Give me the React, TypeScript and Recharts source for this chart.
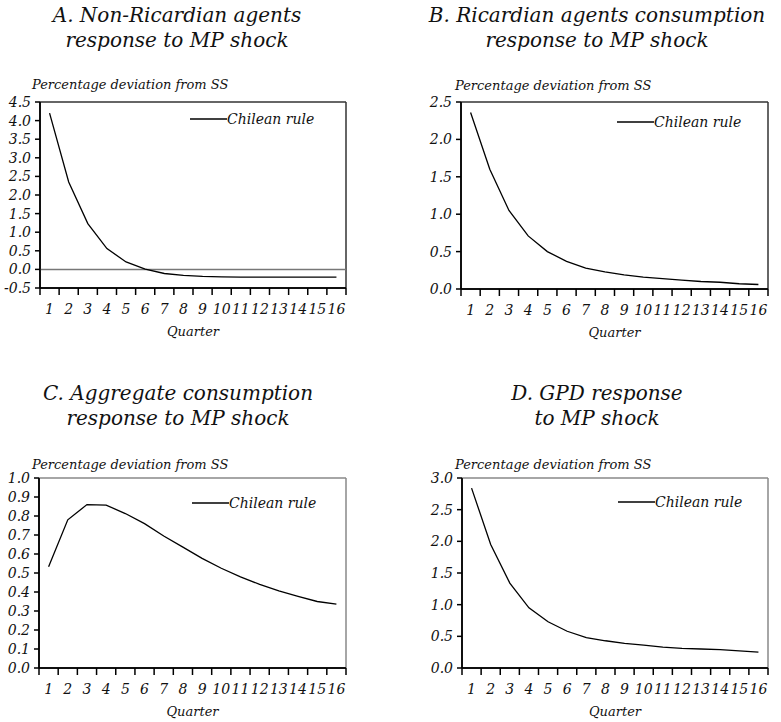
import { LineChart, Line, XAxis, YAxis, ReferenceLine, Legend } from 'recharts';

const quarters = [1, 2, 3, 4, 5, 6, 7, 8, 9, 10, 11, 12, 13, 14, 15, 16];
const quarterEdges = [0.5, 1.5, 2.5, 3.5, 4.5, 5.5, 6.5, 7.5, 8.5, 9.5, 10.5, 11.5, 12.5, 13.5, 14.5, 15.5, 16.5];

const nonRicardian = [4.2, 2.35, 1.23, 0.56, 0.2, 0.01, -0.11, -0.16, -0.19, -0.2, -0.21, -0.21, -0.21, -0.21, -0.21, -0.21];
const ricardian = [2.36, 1.6, 1.05, 0.71, 0.5, 0.37, 0.28, 0.23, 0.19, 0.16, 0.14, 0.12, 0.1, 0.09, 0.07, 0.06];
const aggregate = [0.533, 0.78, 0.86, 0.857, 0.813, 0.76, 0.695, 0.636, 0.577, 0.525, 0.48, 0.44, 0.406, 0.377, 0.35, 0.336];
const gdp = [2.84, 1.95, 1.34, 0.95, 0.73, 0.58, 0.48, 0.43, 0.39, 0.36, 0.33, 0.31, 0.3, 0.29, 0.27, 0.25];

const ticksA = [-0.5, 0, 0.5, 1, 1.5, 2, 2.5, 3, 3.5, 4, 4.5];
const ticksB = [0, 0.5, 1, 1.5, 2, 2.5];
const ticksC = [0, 0.1, 0.2, 0.3, 0.4, 0.5, 0.6, 0.7, 0.8, 0.9, 1];
const ticksD = [0, 0.5, 1, 1.5, 2, 2.5, 3];

const FONT = '"DejaVu Serif", serif';
const X_TICK = 7;
const X_GAP = 9;
const Y_TICK = 5;
const Y_GAP = 4;

const toRows = (values: number[]) => quarters.map((q, i) => ({ q, v: values[i] }));

function LegendBox() {
  return (
    <div style={{ display: 'flex', alignItems: 'center', height: 18, fontFamily: FONT, fontStyle: 'italic', fontSize: 14, color: '#111' }}>
      <svg width={37} height={4} style={{ display: 'block' }}>
        <line x1={0} y1={2} x2={37} y2={2} stroke="#000" strokeWidth={1.3} />
      </svg>
      <span style={{ whiteSpace: 'nowrap' }}>Chilean rule</span>
    </div>
  );
}

// tick mark on the quarter edge, label in the middle of the quarter
function QuarterTick(props: any) {
  const { x, y, payload, half } = props;
  const top = y - X_TICK - X_GAP;
  return (
    <g>
      <line x1={x} y1={top} x2={x} y2={top + X_TICK} stroke="#000" strokeWidth={1.5} />
      {payload.value < 16 && (
        <text x={x + half} y={y} dy="0.71em" textAnchor="middle" fontFamily={FONT} fontStyle="italic" fontSize={14} fill="#111">
          {payload.value + 0.5}
        </text>
      )}
    </g>
  );
}

function ValueTick(props: any) {
  const { x, y, payload } = props;
  return (
    <g>
      <line x1={x + Y_GAP} y1={y} x2={x + Y_GAP + Y_TICK} y2={y} stroke="#000" strokeWidth={1.5} />
      <text x={x} y={y} dy="0.355em" textAnchor="end" fontFamily={FONT} fontStyle="italic" fontSize={14} fill="#111">
        {Number(payload.value).toFixed(1)}
      </text>
    </g>
  );
}

type PanelProps = {
  plotLeft: number;
  plotTop: number;
  plotW: number;
  plotH: number;
  values: number[];
  ticks: number[];
  frame: string;
  zero?: boolean;
  legendDx: number;
  legendDy: number;
};

function Panel({ plotLeft, plotTop, plotW, plotH, values, ticks, frame, zero, legendDx, legendDy }: PanelProps) {
  const width = plotW + 50;
  const height = plotH + 96;
  const lo = ticks[0];
  const hi = ticks[ticks.length - 1];
  return (
    <div style={{ position: 'absolute', left: plotLeft - 40, top: plotTop - 40, width, height }}>
      <LineChart width={width} height={height} data={toRows(values)} margin={{ top: 40, right: 10, bottom: 0, left: 10 }}>
        <XAxis
          type="number"
          dataKey="q"
          domain={[0.5, 16.5]}
          ticks={quarterEdges}
          interval={0}
          tickSize={X_TICK}
          tickMargin={X_GAP}
          height={56}
          tick={<QuarterTick half={plotW / 32} />}
          axisLine={{ stroke: '#000', strokeWidth: 1.5 }}
          tickLine={false}
          label={{ value: 'Quarter', position: 'insideBottom', offset: 8, style: { fontFamily: FONT, fontStyle: 'italic', fontSize: 13, fill: '#111' } }}
        />
        <YAxis
          type="number"
          domain={[lo, hi]}
          ticks={ticks}
          interval={0}
          width={30}
          tickSize={Y_TICK}
          tickMargin={Y_GAP}
          tick={<ValueTick />}
          axisLine={{ stroke: '#000', strokeWidth: 1.5 }}
          tickLine={false}
        />
        <ReferenceLine y={lo} stroke="#000" strokeWidth={1.5} />
        <ReferenceLine x={0.5} stroke="#000" strokeWidth={1.5} />
        <ReferenceLine y={hi} stroke={frame} strokeWidth={1.5} />
        <ReferenceLine x={16.5} stroke={frame} strokeWidth={1.5} />
        {zero && <ReferenceLine y={0} stroke="#777" strokeWidth={1.5} />}
        <Legend
          layout="vertical"
          align="center"
          verticalAlign="middle"
          content={() => <LegendBox />}
          wrapperStyle={{ left: 40 + legendDx, top: 40 + legendDy - 9, width: 'auto' }}
        />
        <Line type="linear" dataKey="v" name="Chilean rule" stroke="#000" strokeWidth={1.3} dot={false} isAnimationActive={false} />
      </LineChart>
    </div>
  );
}

function Title({ cx, top, lines }: { cx: number; top: number; lines: string[] }) {
  return (
    <div
      style={{
        position: 'absolute',
        left: cx - 200,
        top,
        width: 400,
        textAlign: 'center',
        fontFamily: FONT,
        fontStyle: 'italic',
        fontSize: 20,
        lineHeight: '25px',
        color: '#111',
        whiteSpace: 'nowrap',
      }}
    >
      {lines.map((l) => (
        <div key={l}>{l}</div>
      ))}
    </div>
  );
}

function AxisNote({ left, top }: { left: number; top: number }) {
  return (
    <div style={{ position: 'absolute', left, top, fontFamily: FONT, fontStyle: 'italic', fontSize: 13, lineHeight: '16px', color: '#111', whiteSpace: 'nowrap' }}>
      Percentage deviation from SS
    </div>
  );
}

export default function App() {
  return (
    <div style={{ position: 'absolute', left: 0, top: 0, width: 781, height: 722, overflow: 'hidden', background: '#fff' }}>
      <Panel plotLeft={40} plotTop={102} plotW={306} plotH={186} values={nonRicardian} ticks={ticksA} frame="#333" zero legendDx={150} legendDy={17} />
      <Panel plotLeft={461} plotTop={102} plotW={307} plotH={187} values={ricardian} ticks={ticksB} frame="#333" legendDx={156} legendDy={20} />
      <Panel plotLeft={39} plotTop={478} plotW={307} plotH={190} values={aggregate} ticks={ticksC} frame="#888" legendDx={153} legendDy={25} />
      <Panel plotLeft={462} plotTop={478} plotW={306} plotH={190} values={gdp} ticks={ticksD} frame="#888" legendDx={156} legendDy={24} />

      <Title cx={177} top={3} lines={['A. Non-Ricardian agents', 'response to MP shock']} />
      <Title cx={597} top={3} lines={['B. Ricardian agents consumption', 'response to MP shock']} />
      <Title cx={178} top={381} lines={['C. Aggregate consumption', 'response to MP shock']} />
      <Title cx={597} top={381} lines={['D. GPD response', 'to MP shock']} />

      <AxisNote left={32} top={77} />
      <AxisNote left={455} top={78} />
      <AxisNote left={32} top={457} />
      <AxisNote left={455} top={457} />
    </div>
  );
}
